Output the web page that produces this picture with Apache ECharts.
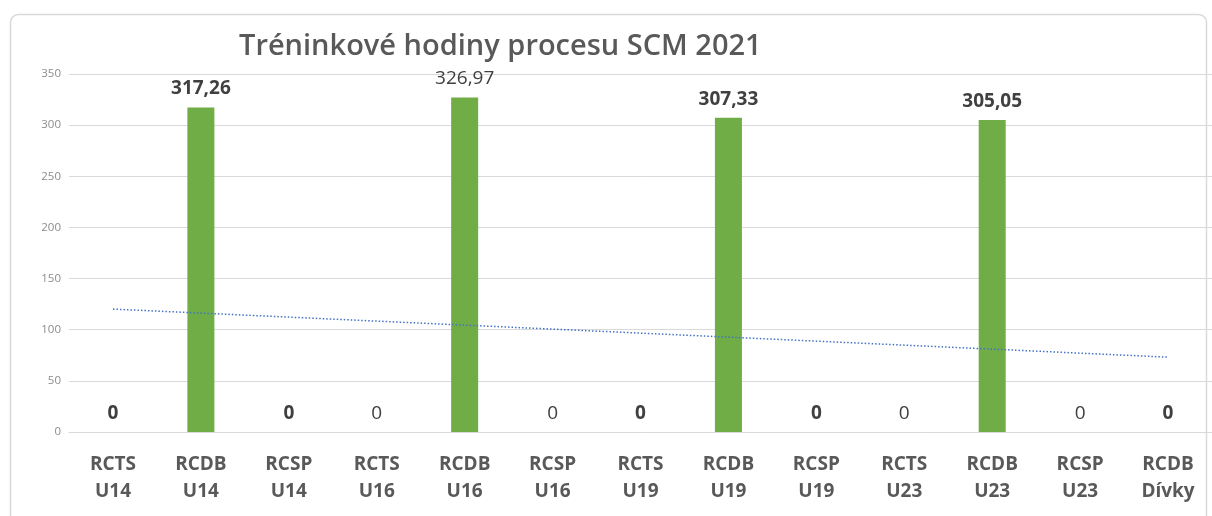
<!DOCTYPE html>
<html>
<head>
<meta charset="utf-8">
<script src="https://cdn.jsdelivr.net/npm/echarts@6/dist/echarts.min.js"></script>
<style>
  html, body { margin: 0; padding: 0; background: #ffffff; }
  #chart { width: 1212px; height: 516px; }
</style>
</head>
<body>
<div id="chart"></div>
<script>
// Training groups (two-line category labels)
const categories = [
  'RCTS\nU14', 'RCDB\nU14', 'RCSP\nU14', 'RCTS\nU16', 'RCDB\nU16', 'RCSP\nU16',
  'RCTS\nU19', 'RCDB\nU19', 'RCSP\nU19', 'RCTS\nU23', 'RCDB\nU23', 'RCSP\nU23', 'RCDB\nDívky'
];
// Training hours per group
const hours = [0, 317.26, 0, 0, 326.97, 0, 0, 307.33, 0, 0, 305.05, 0, 0];
// Which value labels are set in bold
const boldLabel = [true, true, true, false, false, false, true, true, true, false, true, false, true];
// Value-axis ticks
const yTicks = { min: 0, max: 350, interval: 50 };

// Linear trendline (least squares over category index)
function linearTrend(values) {
  const n = values.length;
  const xs = values.map((_, i) => i + 1);
  const mx = xs.reduce((a, b) => a + b, 0) / n;
  const my = values.reduce((a, b) => a + b, 0) / n;
  let sxy = 0, sxx = 0;
  xs.forEach((x, i) => { sxy += (x - mx) * (values[i] - my); sxx += (x - mx) * (x - mx); });
  const slope = sxy / sxx;
  return xs.map(x => my + slope * (x - mx));
}
const trend = linearTrend(hours);

const fmt = v => v === 0 ? '0' : v.toFixed(2).replace('.', ',');
const FONT = 'Open Sans';

const chart = echarts.init(document.getElementById('chart'), null, { renderer: 'canvas' });
chart.setOption({
  backgroundColor: '#ffffff',
  animation: false,
  graphic: [
    {
      type: 'rect', left: 8, top: 12, silent: true,
      shape: { width: 1196, height: 520, r: 8 },
      style: { fill: 'none', stroke: '#d9d9d9', lineWidth: 1.5 }
    }
  ],
  title: {
    text: 'Tréninkové hodiny procesu SCM 2021',
    left: 234, top: 27,
    textStyle: { fontFamily: FONT, fontSize: 29, fontWeight: 600, color: '#595959' }
  },
  grid: { left: 69, right: 0, top: 74, bottom: 84 },
  xAxis: {
    type: 'category',
    data: categories,
    axisLine: { show: true, lineStyle: { color: '#d9d9d9' } },
    axisTick: { show: false },
    axisLabel: {
      interval: 0, margin: 19,
      fontFamily: FONT, fontSize: 19, fontWeight: 'bold', color: '#595959', lineHeight: 27
    }
  },
  yAxis: {
    type: 'value',
    min: yTicks.min, max: yTicks.max, interval: yTicks.interval,
    axisLine: { show: false },
    axisTick: { show: false },
    splitLine: { lineStyle: { color: '#d9d9d9', width: 1 } },
    axisLabel: { margin: 8, fontFamily: FONT, fontSize: 11.5, color: '#8c8c8c' }
  },
  series: [
    {
      type: 'bar',
      data: hours.map((v, i) => ({
        value: v,
        label: { fontWeight: boldLabel[i] ? 'bold' : 'normal' }
      })),
      barWidth: 27,
      itemStyle: { color: '#70ad47' },
      label: {
        show: true, position: 'top', distance: 9,
        fontFamily: FONT, fontSize: 19, color: '#404040',
        formatter: p => fmt(p.value)
      }
    },
    {
      type: 'line',
      data: trend,
      symbol: 'none',
      silent: true,
      lineStyle: { color: '#4472c4', width: 1.5, type: [1.5, 2] },
      z: 3
    }
  ]
});
</script>
</body>
</html>
